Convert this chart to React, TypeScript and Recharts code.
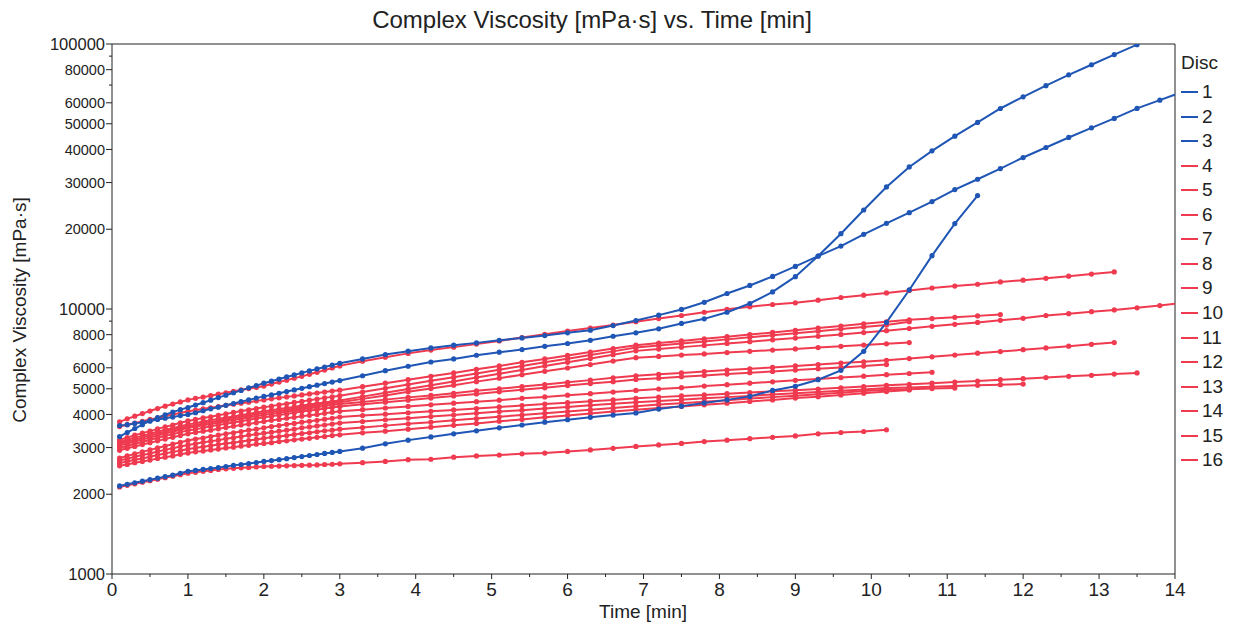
import { LineChart, Line, XAxis, YAxis, ReferenceLine } from "recharts"

const FONT = "'Liberation Sans', Arial, sans-serif"
const BLUE = "#1f56b5"
const RED = "#ef3a4f"
const INK = "#222"

// measurement times [min]: every 0.1 min up to 3.0, then every 0.3 min
const times = [
    0.1, 0.2, 0.3, 0.4, 0.5, 0.6, 0.7, 0.8, 0.9, 1.0, 1.1, 1.2, 1.3, 1.4, 1.5, 1.6, 1.7, 1.8, 1.9, 2.0,
    2.1, 2.2, 2.3, 2.4, 2.5, 2.6, 2.7, 2.8, 2.9, 3.0, 3.3, 3.6, 3.9, 4.2, 4.5, 4.8, 5.1, 5.4, 5.7, 6.0,
    6.3, 6.6, 6.9, 7.2, 7.5, 7.8, 8.1, 8.4, 8.7, 9.0, 9.3, 9.6, 9.9, 10.2, 10.5, 10.8, 11.1, 11.4, 11.7,
    12.0, 12.3, 12.6, 12.9, 13.2, 13.5, 13.8, 14.1,
]

// complex viscosity [mPa·s] per disc
const disc1 = [
    3630, 3660, 3700, 3740, 3780, 3830, 3870, 3910, 3960, 4000, 4060, 4130, 4200, 4260, 4330, 4400, 4470, 4540, 4610, 4680,
    4740, 4810, 4880, 4950, 5020, 5090, 5160, 5230, 5300, 5370, 5600, 5850, 6080, 6310, 6480, 6690, 6870, 7030, 7230, 7410,
    7620, 7890, 8130, 8420, 8820, 9180, 9720, 10490, 11600, 13240, 15840, 19240, 23640, 28880, 34360, 39530, 44900, 50600,
    57100, 63200, 69600, 76500, 83500, 91200, 99400,
]
const disc2 = [
    3300, 3420, 3540, 3660, 3780, 3890, 3990, 4080, 4170, 4250, 4340, 4430, 4530, 4630, 4730, 4830, 4930, 5040, 5140, 5250,
    5340, 5440, 5540, 5640, 5740, 5840, 5940, 6040, 6140, 6240, 6480, 6730, 6930, 7130, 7300, 7450, 7620, 7780, 7940, 8130,
    8320, 8660, 9050, 9480, 9960, 10600, 11440, 12270, 13270, 14480, 15840, 17280, 19130, 21050, 23100, 25430, 28230, 30880,
    33890, 37290, 40690, 44390, 48280, 52370, 57150, 61400, 66000,
]
const disc3 = [
    2150, 2180, 2210, 2240, 2270, 2300, 2330, 2360, 2400, 2440, 2460, 2480, 2500, 2520, 2545, 2570, 2590, 2610, 2635, 2660,
    2680, 2700, 2725, 2750, 2775, 2800, 2825, 2850, 2875, 2900, 2985, 3100, 3200, 3290, 3380, 3470, 3560, 3650, 3740, 3820,
    3900, 3980, 4050, 4190, 4300, 4420, 4540, 4680, 4930, 5110, 5410, 5870, 6920, 8900, 11800, 15900, 21000, 26800,
]
const disc4 = [
    3750, 3850, 3940, 4030, 4120, 4210, 4300, 4380, 4460, 4540, 4600, 4650, 4710, 4770, 4830, 4890, 4950, 5010, 5060, 5120,
    5210, 5300, 5390, 5480, 5570, 5670, 5770, 5880, 5990, 6100, 6350, 6580, 6800, 7000, 7180, 7370, 7580, 7800, 8030, 8260,
    8480, 8700, 8950, 9200, 9450, 9720, 9980, 10200, 10400, 10550, 10800, 11050, 11280, 11500, 11750, 12000, 12200, 12400,
    12650, 12850, 13050, 13300, 13550, 13800,
]
const disc5 = [
    3600, 3660, 3710, 3770, 3830, 3880, 3940, 4000, 4050, 4110, 4150, 4200, 4240, 4280, 4330, 4370, 4410, 4450, 4500, 4540,
    4580, 4620, 4660, 4700, 4740, 4780, 4820, 4860, 4900, 4940, 5090, 5250, 5410, 5570, 5740, 5920, 6100, 6290, 6480, 6680,
    6880, 7090, 7300, 7440, 7580, 7720, 7860, 8010, 8160, 8310, 8470, 8620, 8790, 8950, 9100, 9200, 9300, 9420, 9530,
]
const disc6 = [
    3210, 3270, 3340, 3400, 3460, 3530, 3590, 3650, 3720, 3780, 3830, 3880, 3920, 3970, 4020, 4070, 4120, 4160, 4210, 4260,
    4300, 4350, 4390, 4440, 4480, 4530, 4570, 4620, 4660, 4710, 4860, 5020, 5190, 5360, 5530, 5710, 5900, 6090, 6290, 6490,
    6700, 6920, 7150, 7280, 7410, 7540, 7680, 7820, 7960, 8100, 8250, 8400, 8550, 8700, 8950,
]
const disc7 = [
    3150, 3210, 3270, 3320, 3380, 3440, 3500, 3550, 3610, 3670, 3710, 3760, 3800, 3850, 3890, 3930, 3980, 4020, 4070, 4110,
    4150, 4190, 4230, 4270, 4320, 4360, 4400, 4440, 4480, 4520, 4670, 4830, 4990, 5160, 5330, 5510, 5700, 5890, 6090, 6290,
    6500, 6720, 6950, 7060, 7180, 7290, 7410, 7530, 7650, 7770, 7890, 8020, 8150, 8280, 8440, 8600, 8750, 8900, 9060, 9220,
    9450, 9600, 9770, 9920, 10100, 10300, 10550,
]
const disc8 = [
    3100, 3160, 3210, 3270, 3330, 3380, 3440, 3500, 3550, 3610, 3650, 3700, 3740, 3790, 3830, 3870, 3920, 3960, 4010, 4050,
    4090, 4130, 4170, 4210, 4250, 4290, 4330, 4370, 4410, 4450, 4580, 4720, 4870, 5010, 5160, 5320, 5480, 5650, 5820, 5990,
    6170, 6360, 6550, 6620, 6700, 6770, 6850, 6920, 7000, 7070, 7150, 7230, 7310, 7390, 7470,
]
const disc9 = [
    3050, 3110, 3160, 3220, 3270, 3330, 3390, 3440, 3500, 3560, 3600, 3640, 3680, 3730, 3770, 3810, 3850, 3900, 3940, 3980,
    4020, 4060, 4100, 4140, 4180, 4220, 4260, 4300, 4340, 4380, 4460, 4550, 4640, 4720, 4810, 4910, 5000, 5100, 5190, 5290,
    5390, 5500, 5600, 5670, 5740, 5810, 5880, 5950, 6020, 6100, 6170, 6250, 6320, 6400, 6500, 6600, 6700, 6810, 6910, 7020,
    7130, 7240, 7360, 7470,
]
const disc10 = [
    2990, 3040, 3100, 3150, 3210, 3260, 3320, 3370, 3430, 3480, 3520, 3560, 3610, 3650, 3690, 3730, 3770, 3820, 3860, 3900,
    3940, 3980, 4020, 4060, 4100, 4140, 4170, 4210, 4250, 4290, 4370, 4450, 4530, 4610, 4700, 4780, 4870, 4960, 5040, 5140,
    5230, 5320, 5420, 5480, 5550, 5610, 5680, 5750, 5810, 5880, 5950, 6020, 6090, 6170,
]
const disc11 = [
    2930, 2980, 3030, 3080, 3130, 3180, 3230, 3280, 3330, 3380, 3420, 3460, 3490, 3530, 3570, 3610, 3650, 3680, 3720, 3760,
    3800, 3830, 3870, 3900, 3940, 3970, 4000, 4040, 4080, 4110, 4170, 4230, 4290, 4350, 4410, 4470, 4530, 4600, 4660, 4730,
    4790, 4860, 4930, 4990, 5050, 5120, 5180, 5250, 5310, 5380, 5440, 5510, 5580, 5650, 5710, 5770,
]
const disc12 = [
    2740, 2790, 2840, 2890, 2940, 2990, 3040, 3090, 3140, 3190, 3230, 3260, 3300, 3340, 3380, 3410, 3450, 3490, 3520, 3560,
    3600, 3630, 3670, 3700, 3740, 3770, 3800, 3840, 3870, 3910, 3960, 4010, 4060, 4110, 4160, 4210, 4270, 4320, 4380, 4430,
    4490, 4540, 4600, 4650, 4700, 4740, 4790, 4840, 4890, 4940, 4990, 5040, 5100, 5150, 5200, 5250, 5300, 5350, 5410, 5460,
    5510, 5570, 5620, 5680, 5740,
]
const disc13 = [
    2680, 2720, 2770, 2810, 2850, 2900, 2940, 2980, 3030, 3070, 3100, 3140, 3170, 3200, 3240, 3270, 3300, 3340, 3370, 3400,
    3430, 3460, 3490, 3520, 3560, 3590, 3620, 3650, 3680, 3710, 3760, 3820, 3870, 3930, 3980, 4040, 4100, 4150, 4210, 4270,
    4330, 4390, 4450, 4500, 4550, 4600, 4650, 4700, 4760, 4810, 4860, 4920, 4970, 5030, 5060, 5090, 5120, 5150, 5180, 5210,
]
const disc14 = [
    2620, 2660, 2700, 2730, 2770, 2810, 2850, 2890, 2920, 2960, 2990, 3020, 3050, 3080, 3110, 3130, 3160, 3190, 3220, 3250,
    3280, 3300, 3330, 3360, 3390, 3410, 3440, 3470, 3490, 3520, 3570, 3630, 3690, 3740, 3800, 3860, 3920, 3980, 4040, 4100,
    4170, 4230, 4300, 4360, 4410, 4470, 4530, 4590, 4650, 4710, 4770, 4830, 4900, 4960, 4980, 5010, 5030,
]
const disc15 = [
    2560, 2590, 2630, 2660, 2690, 2730, 2760, 2790, 2830, 2860, 2890, 2910, 2940, 2960, 2990, 3010, 3040, 3060, 3090, 3110,
    3130, 3160, 3180, 3210, 3230, 3250, 3280, 3300, 3330, 3350, 3410, 3460, 3520, 3580, 3640, 3700, 3770, 3830, 3900, 3960,
    4030, 4100, 4170, 4230, 4290, 4350, 4410, 4480, 4540, 4610, 4670, 4740, 4810, 4880, 4950,
]
const disc16 = [
    2130, 2160, 2190, 2220, 2250, 2280, 2310, 2340, 2370, 2400, 2420, 2440, 2460, 2480, 2495, 2505, 2515, 2525, 2535, 2545,
    2550, 2555, 2560, 2565, 2570, 2575, 2580, 2590, 2595, 2605, 2630, 2660, 2700, 2710, 2760, 2790, 2810, 2840, 2860, 2900,
    2940, 2980, 3030, 3070, 3110, 3160, 3200, 3240, 3280, 3320, 3380, 3420, 3450, 3500,
]

const discNames = ["1", "2", "3", "4", "5", "6", "7", "8", "9", "10", "11", "12", "13", "14", "15", "16"]
const discColors = [BLUE, BLUE, BLUE, RED, RED, RED, RED, RED, RED, RED, RED, RED, RED, RED, RED, RED]
const series = [disc1, disc2, disc3, disc4, disc5, disc6, disc7, disc8, disc9, disc10, disc11, disc12, disc13, disc14, disc15, disc16]

const xTicks = [0, 0.5, 1, 1.5, 2, 2.5, 3, 3.5, 4, 4.5, 5, 5.5, 6, 6.5, 7, 7.5, 8, 8.5, 9, 9.5, 10, 10.5, 11, 11.5, 12, 12.5, 13, 13.5, 14]
const yTicks = [1000, 2000, 3000, 4000, 5000, 6000, 7000, 8000, 9000, 10000, 20000, 30000, 40000, 50000, 60000, 70000, 80000, 90000, 100000]
const yUnlabeled = [7000, 9000, 70000, 90000]
const yDecades = [1000, 10000, 100000]

const rows = times.map((t, i) => {
    const row: Record<string, number> = { t }
    series.forEach((vals, j) => {
        if (i < vals.length) row[`d${j + 1}`] = vals[i]
    })
    return row
})

// reds first, blues on top
const drawOrder = [3, 4, 5, 6, 7, 8, 9, 10, 11, 12, 13, 14, 15, 0, 1, 2]

function XTick(props: any) {
    const { x, y, payload } = props
    const v = payload.value
    const major = Number.isInteger(v)
    const axisY = y - 9
    return (
        <g>
            <line x1={x} x2={x} y1={axisY} y2={axisY + (major ? 5 : 3)} stroke={INK} />
            {major && (
                <text x={x} y={y} dy="0.71em" textAnchor="middle" fontSize={19} fill={INK} fontFamily={FONT}>
                    {v}
                </text>
            )}
        </g>
    )
}

function YTick(props: any) {
    const { x, y, payload } = props
    const v = payload.value
    const labeled = !yUnlabeled.includes(v)
    const axisX = x + 7
    return (
        <g>
            <line x1={axisX - (labeled ? 6 : 3)} x2={axisX} y1={y} y2={y} stroke={INK} />
            {labeled && (
                <text x={x} y={y} dy="0.36em" textAnchor="end" fontSize={yDecades.includes(v) ? 16.5 : 14.5} fill={INK} fontFamily={FONT}>
                    {v}
                </text>
            )}
        </g>
    )
}

export default function App() {
    return (
        <div style={{ position: "absolute", left: 0, top: 0, width: 1234, height: 627, background: "#fff", fontFamily: FONT, color: INK }}>
            <div style={{ position: "absolute", left: 0, top: 6, width: 1184, textAlign: "center", fontSize: 24, lineHeight: "28px" }}>
                Complex Viscosity [mPa·s] vs. Time [min]
            </div>
            <div
                style={{
                    position: "absolute",
                    left: 20 - 150,
                    top: 310 - 11,
                    width: 300,
                    height: 22,
                    lineHeight: "22px",
                    textAlign: "center",
                    fontSize: 19,
                    transform: "rotate(-90deg)",
                }}
            >
                Complex Viscosity [mPa·s]
            </div>
            <div style={{ position: "absolute", left: 543, top: 601, width: 200, textAlign: "center", fontSize: 19, lineHeight: "22px" }}>
                Time [min]
            </div>

            <LineChart width={1234} height={627} data={rows} margin={{ top: 44, right: 59, bottom: 0, left: 0 }}>
                <XAxis
                    dataKey="t"
                    type="number"
                    domain={[0, 14]}
                    allowDataOverflow
                    ticks={xTicks}
                    interval={0}
                    tick={<XTick />}
                    tickLine={false}
                    tickSize={5}
                    tickMargin={4}
                    axisLine={{ stroke: INK }}
                    height={53}
                />
                <YAxis
                    type="number"
                    scale="log"
                    domain={[1000, 100000]}
                    allowDataOverflow
                    ticks={yTicks}
                    interval={0}
                    tick={<YTick />}
                    tickLine={false}
                    tickSize={6}
                    tickMargin={1}
                    axisLine={{ stroke: INK }}
                    width={112}
                />
                <ReferenceLine y={100000} stroke={INK} />
                <ReferenceLine x={14} stroke={INK} />
                {drawOrder.map((j) => (
                    <Line
                        key={discNames[j]}
                        type="linear"
                        dataKey={`d${j + 1}`}
                        name={discNames[j]}
                        stroke={discColors[j]}
                        strokeWidth={2}
                        dot={{ r: 2.6, fill: discColors[j], stroke: discColors[j], strokeWidth: 0 }}
                        activeDot={false}
                        isAnimationActive={false}
                    />
                ))}
            </LineChart>

            <div style={{ position: "absolute", left: 1181, top: 52, fontSize: 19, lineHeight: "22px" }}>Disc</div>
            {discNames.map((n, i) => (
                <div key={n} style={{ position: "absolute", left: 1181, top: 81 + i * 24.55, height: 22, display: "flex", alignItems: "center", fontSize: 19, lineHeight: "22px" }}>
                    <span style={{ display: "inline-block", width: 17, height: 2, background: discColors[i], marginRight: 4 }} />
                    <span>{n}</span>
                </div>
            ))}
        </div>
    )
}
